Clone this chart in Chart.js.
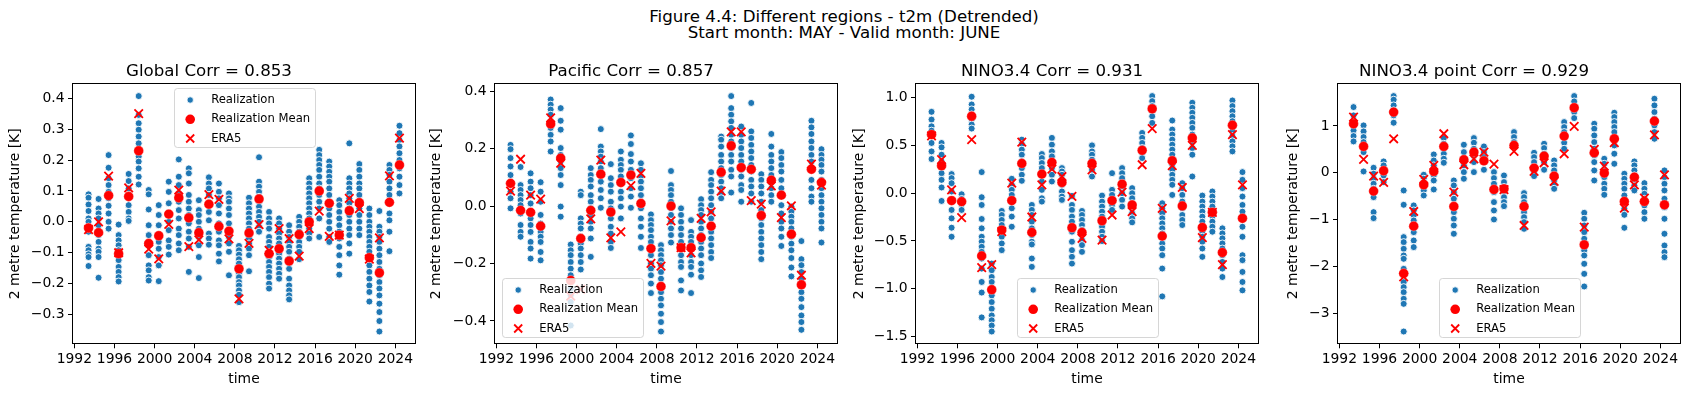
<!DOCTYPE html>
<html>
<head>
<meta charset="utf-8">
<script src="https://cdn.jsdelivr.net/npm/chart.js@4.4.1/dist/chart.umd.min.js"></script>
<style>
  body { margin: 0; width: 1688px; height: 396px; background: #fff; position: relative; overflow: hidden; font-family: "DejaVu Sans", sans-serif; }
  #suptitle { position: absolute; left: 0; top: 8.6px; width: 1688px; text-align: center; font-size: 16.67px; line-height: 16.7px; color: #000; }
  canvas { position: absolute; top: 50px; }
</style>
</head>
<body>
<div id="suptitle">Figure 4.4: Different regions - t2m (Detrended)<br>Start month: MAY - Valid month: JUNE</div>
<canvas id="c0" width="424" height="346" style="left:3px;width:424px;height:346px"></canvas>
<canvas id="c1" width="424" height="346" style="left:425px;width:424px;height:346px"></canvas>
<canvas id="c2" width="424" height="346" style="left:846px;width:424px;height:346px"></canvas>
<canvas id="c3" width="424" height="346" style="left:1268px;width:424px;height:346px"></canvas>
<script>
// forecast years (valid month June), one column of realizations per year
var years = [1993,1994,1995,1996,1997,1998,1999,2000,2001,2002,2003,2004,2005,2006,2007,2008,
             2009,2010,2011,2012,2013,2014,2015,2016,2017,2018,2019,2020,2021,2022,2023,2024];
var xTicks = [1992,1996,2000,2004,2008,2012,2016,2020,2024];

// ---- Global ----
var globalReal = [
  [0.089,0.078,0.056,0.035,0.011,0,-0.016,-0.032,-0.081,-0.092,-0.105,-0.114,-0.143],
  [0.074,0.043,0.027,0.011,-0.011,-0.043,-0.065,-0.087,-0.097,-0.114,-0.181],
  [0.216,0.175,0.141,0.119,0.097,0.076,0.052,0.027,0,-0.022],
  [-0.009,-0.043,-0.06,-0.076,-0.092,-0.108,-0.124,-0.146,-0.162,-0.179,-0.193],
  [0.155,0.132,0.108,0.087,0.054,0.032,0.011,0.003],
  [0.407,0.346,0.319,0.298,0.276,0.254,0.233,0.211,0.195,0.173,0.146,0.121],
  [0.103,0.089,0.04,-0.011,-0.043,-0.07,-0.108,-0.141,-0.157,-0.179,-0.19],
  [0.054,0.022,-0.011,-0.043,-0.065,-0.087,-0.114,-0.141,-0.192],
  [0.13,0.097,0.06,0.022,0,-0.027,-0.06,-0.081,-0.106],
  [0.202,0.146,0.119,0.092,0.065,0.038,0.011,-0.022,-0.043,-0.07,-0.092],
  [0.173,0.157,0.124,0.087,0.065,0.043,0.022,-0.005,-0.032,-0.054,-0.081,-0.162],
  [0.07,0.038,0.022,0,-0.022,-0.049,-0.076,-0.114,-0.182],
  [0.144,0.124,0.108,0.087,0.06,0.032,0.005,-0.038,-0.054,-0.074],
  [0.124,0.097,0.076,0.054,0.027,-0.005,-0.032,-0.06,-0.076,-0.103,-0.128],
  [0.092,0.076,0.065,0.043,0.022,-0.005,-0.049,-0.07,-0.097,-0.173],
  [-0.078,-0.092,-0.106,-0.121,-0.135,-0.152,-0.168,-0.179,-0.195,-0.206,-0.222,-0.236,-0.26],
  [0.078,0.06,0.043,0.027,0.011,-0.005,-0.022,-0.038,-0.054,-0.07,-0.087,-0.108,-0.16],
  [0.209,0.13,0.114,0.097,0.081,0.065,0.049,0.032,0.016,0,-0.016,-0.032],
  [0.032,0.011,-0.005,-0.022,-0.049,-0.065,-0.081,-0.097,-0.114,-0.13,-0.146,-0.162,-0.179,-0.2,-0.216],
  [0.011,-0.005,-0.022,-0.038,-0.054,-0.07,-0.087,-0.103,-0.119,-0.135,-0.152,-0.168,-0.184],
  [-0.011,-0.032,-0.049,-0.065,-0.081,-0.097,-0.119,-0.135,-0.152,-0.184,-0.206,-0.222,-0.238,-0.251],
  [0.016,0,-0.016,-0.032,-0.049,-0.065,-0.081,-0.097,-0.121],
  [0.141,0.124,0.108,0.092,0.076,0.06,0.043,0.027,0.011,-0.005,-0.022,-0.038,-0.054],
  [0.233,0.216,0.2,0.184,0.168,0.146,0.124,0.108,0.087,0.065,0.043,0.011,-0.049],
  [0.195,0.179,0.162,0.146,0.13,0.108,0.087,0.065,0.043,0.022,0,-0.022,-0.049,-0.065],
  [0.07,0.054,0.032,0.011,-0.011,-0.032,-0.054,-0.081,-0.108,-0.141,-0.171],
  [0.254,0.141,0.124,0.108,0.092,0.076,0.06,0.043,0.022,0,-0.022,-0.043,-0.07,-0.103],
  [0.187,0.168,0.146,0.124,0.108,0.087,0.065,0.043,0.022,0,-0.022,-0.043],
  [0.043,0.022,0,-0.016,-0.032,-0.049,-0.065,-0.081,-0.097,-0.119,-0.141,-0.162,-0.184,-0.206,-0.227,-0.258],
  [0.035,-0.016,-0.032,-0.049,-0.065,-0.087,-0.108,-0.13,-0.152,-0.173,-0.195,-0.216,-0.238,-0.265,-0.292,-0.321,-0.355],
  [0.184,0.168,0.152,0.13,0.108,0.087,0.06,0.027,0.005,-0.032,-0.095],
  [0.311,0.287,0.265,0.244,0.222,0.2,0.173,0.146,0.119,0.092]
];
var globalMean = [-0.02,-0.035,0.085,-0.103,0.082,0.23,-0.07,-0.045,0.025,0.078,0.013,-0.035,0.057,-0.015,-0.03,-0.152,
                  -0.036,0.074,-0.103,-0.087,-0.127,-0.041,0.0,0.1,0.06,-0.043,0.036,0.062,-0.116,-0.165,0.063,0.184];
var globalEra5 = [-0.025,0.0,0.148,-0.1,0.11,0.35,-0.088,-0.12,-0.008,0.103,-0.08,-0.058,0.088,0.073,-0.055,-0.249,
                  -0.07,-0.009,-0.092,-0.022,-0.054,-0.111,-0.022,0.035,-0.047,-0.043,0.076,0.043,-0.121,-0.052,0.149,0.271];
var globalTicks = [-0.3,-0.2,-0.1,0.0,0.1,0.2,0.3,0.4];

// ---- Pacific ----
var pacificReal = [
  [0.213,0.198,0.167,0.138,0.108,0.079,0.05,0.027,-0.008],
  [0.136,0.073,0.056,0.038,0.021,0.003,-0.026,-0.066,-0.09,-0.107],
  [0.114,0.085,0.062,0.038,0.009,-0.02,-0.043,-0.066,-0.09,-0.125,-0.148,-0.183],
  [0.083,0.05,0.015,-0.031,-0.061,-0.09,-0.107,-0.125,-0.16,-0.189],
  [0.371,0.353,0.336,0.318,0.295,0.272,0.248,0.225,0.19],
  [0.341,0.297,0.266,0.202,0.178,0.155,0.132,0.108,0.073,-0.002,-0.037],
  [-0.134,-0.154,-0.171,-0.195,-0.218,-0.241,-0.265,-0.288,-0.311,-0.334,-0.416],
  [0.05,0.038,-0.043,-0.061,-0.078,-0.107,-0.131,-0.148,-0.171,-0.195,-0.221],
  [0.132,0.108,0.091,0.068,0.038,0.015,-0.008,-0.031,-0.055,-0.078,-0.113,-0.177],
  [0.268,0.207,0.19,0.172,0.155,0.132,0.108,0.085,0.056,0.027,-0.006],
  [0.146,0.097,0.073,0.05,0.015,-0.008,-0.043,-0.072,-0.096,-0.125,-0.146],
  [0.19,0.161,0.143,0.126,0.103,0.079,0.05,0.027,-0.002,-0.043],
  [0.246,0.216,0.181,0.155,0.126,0.097,0.062,0.033,-0.006],
  [0.149,0.126,0.103,0.085,0.062,0.038,0.015,-0.008,-0.043,-0.072,-0.107,-0.146],
  [-0.029,-0.049,-0.066,-0.084,-0.107,-0.125,-0.148,-0.171,-0.2,-0.218,-0.241,-0.27,-0.303],
  [-0.136,-0.154,-0.171,-0.189,-0.206,-0.23,-0.253,-0.276,-0.3,-0.323,-0.346,-0.375,-0.404,-0.437],
  [0.122,0.073,0.056,0.038,0.015,-0.008,-0.031,-0.055,-0.078,-0.101,-0.127],
  [-0.008,-0.031,-0.055,-0.078,-0.101,-0.125,-0.148,-0.171,-0.195,-0.212,-0.259,-0.294],
  [-0.049,-0.09,-0.107,-0.125,-0.148,-0.171,-0.195,-0.212,-0.239,-0.303],
  [0.024,0.003,-0.014,-0.031,-0.055,-0.078,-0.101,-0.125,-0.148,-0.171,-0.2,-0.224,-0.247],
  [0.118,0.091,0.073,0.05,0.027,0.003,-0.02,-0.043,-0.066,-0.09,-0.113,-0.136,-0.16,-0.181],
  [0.242,0.231,0.207,0.178,0.155,0.132,0.108,0.085,0.062,0.044,0.027],
  [0.383,0.341,0.318,0.295,0.272,0.248,0.225,0.202,0.178,0.155,0.126,0.103,0.047],
  [0.277,0.248,0.225,0.202,0.178,0.155,0.126,0.103,0.073,0.056,0.015],
  [0.359,0.26,0.237,0.213,0.19,0.167,0.143,0.12,0.091,0.068,0.044,0.015],
  [0.111,0.091,0.068,0.044,0.015,-0.014,-0.043,-0.066,-0.09,-0.113,-0.136,-0.16,-0.185],
  [0.251,0.207,0.178,0.155,0.132,0.108,0.085,0.062,0.038,0.015],
  [0.188,0.167,0.143,0.12,0.091,0.062,0.033,0.003,-0.026,-0.055,-0.078,-0.107,-0.139],
  [-0.002,-0.02,-0.037,-0.055,-0.078,-0.107,-0.131,-0.154,-0.181,-0.214,-0.245],
  [-0.122,-0.185,-0.206,-0.23,-0.253,-0.276,-0.3,-0.323,-0.352,-0.381,-0.404,-0.431],
  [0.297,0.274,0.251,0.225,0.202,0.178,0.155,0.126,0.091,0.062,0.033,0.015],
  [0.198,0.178,0.161,0.143,0.12,0.091,0.062,0.038,0.015,-0.008,-0.031,-0.055,-0.078,-0.127]
];
var pacificMean = [0.079,-0.015,-0.022,-0.07,0.286,0.167,-0.259,-0.113,-0.015,0.111,-0.021,0.082,0.108,0.009,-0.148,-0.28,
                   0.0,-0.145,-0.145,-0.11,-0.07,0.118,0.21,0.134,0.128,-0.033,0.09,0.038,-0.098,-0.274,0.128,0.082];
var pacificEra5 = [0.052,0.163,0.038,0.024,0.307,0.149,-0.314,-0.29,-0.045,0.16,-0.111,-0.09,0.071,0.114,-0.2,-0.209,
                   -0.052,-0.145,-0.163,-0.043,-0.02,0.052,0.258,0.258,0.019,0.007,0.07,-0.04,0.001,-0.241,0.146,0.073];
var pacificTicks = [-0.4,-0.2,0.0,0.2,0.4];

// ---- NINO3.4 ----
var ninoReal = [
  [0.852,0.771,0.7,0.655,0.614,0.526,0.438,0.358],
  [0.526,0.48,0.403,0.333,0.28,0.21,0.14,0.06,-0.081],
  [0.2,0.158,0.105,0.018,-0.088,-0.175,-0.263,-0.361,-0.456],
  [-0.011,-0.06,-0.088,-0.12,-0.175],
  [1.01,0.929,0.877,0.824,0.771,0.719,0.677],
  [0.221,-0.042,-0.123,-0.27,-0.368,-0.456,-0.508,-0.561,-0.614,-0.684,-0.789,-0.929,-1.04,-1.3],
  [-0.737,-0.806,-0.877,-0.929,-1.0,-1.07,-1.14,-1.21,-1.28,-1.33,-1.385,-1.448],
  [-0.186,-0.228,-0.28,-0.333,-0.386,-0.456,-0.526,-0.596],
  [0.151,0.088,0.035,-0.018,-0.088,-0.158,-0.245,-0.351],
  [0.561,0.515,0.456,0.403,0.333,0.263,0.193,0.13],
  [-0.123,-0.175,-0.228,-0.298,-0.368,-0.438,-0.508,-0.536,-0.684,-0.771],
  [0.41,0.368,0.316,0.263,0.193,0.123,0.035,-0.053,-0.088],
  [0.579,0.508,0.438,0.386,0.316,0.263,0.193,0.123],
  [0.263,0.228,0.193,0.14,0.088,0.018,-0.035,-0.07],
  [-0.028,-0.123,-0.175,-0.245,-0.298,-0.351,-0.403,-0.508,-0.596,-0.666,-0.737],
  [-0.186,-0.228,-0.28,-0.333,-0.386,-0.438,-0.491,-0.543,-0.614],
  [0.501,0.438,0.403,0.351,0.298,0.245,0.175],
  [-0.025,-0.088,-0.14,-0.193,-0.245,-0.298,-0.351,-0.403,-0.456,-0.501],
  [0.21,0.035,-0.018,-0.07,-0.123,-0.175],
  [0.263,0.21,0.158,0.105,0.053,0.0,-0.07,-0.14],
  [0.053,0.0,-0.053,-0.105,-0.158,-0.21,-0.263,-0.305],
  [0.631,0.579,0.526,0.473,0.421,0.368],
  [1.017,0.964,0.912,0.859,0.806,0.736],
  [-0.105,-0.158,-0.21,-0.263,-0.316,-0.368,-0.421,-0.473,-0.526,-0.579,-0.649,-0.789,-1.08],
  [0.761,0.666,0.614,0.561,0.508,0.456,0.403,0.351,0.298,0.245,0.193,0.14,0.088,-0.018],
  [0.105,0.053,-0.018,-0.088,-0.158,-0.228,-0.28,-0.333],
  [0.947,0.894,0.842,0.789,0.736,0.684,0.614,0.543,0.473,0.403,0.175],
  [-0.025,-0.088,-0.14,-0.193,-0.245,-0.298,-0.351,-0.403,-0.456,-0.508,-0.579,-0.666],
  [0.018,-0.035,-0.088,-0.14,-0.193,-0.245,-0.298,-0.351,-0.403],
  [-0.368,-0.421,-0.473,-0.526,-0.579,-0.649,-0.719,-0.789,-0.877],
  [0.971,0.912,0.859,0.806,0.754,0.701,0.649,0.596,0.543,0.491,0.438],
  [0.221,0.14,0.053,-0.035,-0.123,-0.193,-0.263,-0.351,-0.456,-0.649,-0.701,-0.824,-0.929,-1.017]
];
var ninoMean = [0.614,0.288,-0.077,-0.088,0.806,-0.656,-1.01,-0.386,-0.077,0.312,-0.41,0.2,0.323,0.112,-0.361,-0.41,
                0.312,-0.288,-0.077,0.095,-0.123,0.449,0.884,-0.449,0.34,-0.133,0.579,-0.358,-0.2,-0.621,0.712,-0.263];
var ninoEra5 = [0.6,0.351,0.035,-0.256,0.561,-0.778,-0.747,-0.403,0.105,0.536,-0.249,0.088,0.252,0.175,-0.032,-0.473,
                0.245,-0.491,-0.228,0.011,-0.193,0.298,0.677,-0.158,0.288,0.06,0.501,-0.466,-0.2,-0.747,0.614,0.088];
var ninoTicks = [-1.5,-1.0,-0.5,0.0,0.5,1.0];

// ---- NINO3.4 point ----
var pointReal = [
  [1.402,1.224,1.046,0.904,0.783,0.669],
  [1.011,0.883,0.762,0.655,0.441,0.028],
  [0.107,-0.021,-0.128,-0.235,-0.342,-0.448,-0.52,-0.84,-0.968],
  [0.242,0.157,0.05,-0.057,-0.199],
  [1.637,1.559,1.438,1.331,1.224,1.068],
  [-0.377,-0.683,-1.373,-1.48,-1.623,-1.765,-1.836,-2.05,-2.192,-2.335,-2.441,-2.548,-2.69,-2.797,-3.388],
  [-0.697,-0.804,-0.911,-1.018,-1.125,-1.267,-1.445,-1.587],
  [-0.043,-0.128,-0.199,-0.27,-0.377,-0.484],
  [0.391,0.263,0.157,0.05,-0.057,-0.164,-0.356],
  [0.74,0.619,0.512,0.406,0.299,0.214],
  [-0.164,-0.27,-0.413,-0.555,-0.697,-0.84,-0.982,-1.125,-1.302],
  [0.598,0.441,0.299,0.157,0.014,-0.128],
  [0.74,0.641,0.512,0.37,0.228,0.014],
  [0.562,0.441,0.335,0.228,0.064],
  [0.014,-0.114,-0.235,-0.413,-0.626,-0.804,-0.996],
  [-0.057,-0.199,-0.306,-0.413,-0.52,-0.626,-0.712],
  [0.868,0.762,0.655,0.548],
  [-0.434,-0.52,-0.626,-0.733,-0.84,-0.947,-1.053,-1.196],
  [0.427,0.335,0.228,0.121,0.014,-0.071],
  [0.619,0.527,0.406,0.228,0.064],
  [0.263,0.157,0.05,-0.057,-0.164,-0.27,-0.342],
  [1.082,0.975,0.868,0.762,0.641,0.512],
  [1.637,1.523,1.402,1.295,1.167],
  [-0.854,-0.982,-1.125,-1.267,-1.409,-1.552,-1.658,-1.765,-1.943,-2.157,-2.427],
  [1.046,0.94,0.797,0.655,0.512,0.37,0.228,0.05,-0.164],
  [0.299,0.192,0.05,-0.093,-0.235,-0.342,-0.47],
  [1.281,1.189,1.082,0.975,0.868,0.726,0.584,0.406,0.192],
  [-0.021,-0.128,-0.235,-0.342,-0.484,-0.626,-0.769,-0.897,-1.174],
  [0.242,0.157,0.05,-0.057,-0.164,-0.27,-0.377],
  [-0.221,-0.342,-0.448,-0.555,-0.697,-0.84,-0.982],
  [1.58,1.438,1.295,1.153,1.011,0.868,0.726],
  [0.05,-0.093,-0.235,-0.377,-0.555,-0.733,-0.982,-1.302,-1.552,-1.694,-1.801]
];
var pointMean = [1.046,0.562,-0.391,0.043,1.295,-2.149,-1.139,-0.256,0.028,0.562,-0.719,0.278,0.441,0.256,-0.356,-0.342,
                 0.584,-0.719,0.1,0.356,-0.071,0.783,1.388,-1.537,0.427,-0.007,0.726,-0.612,-0.093,-0.612,1.103,-0.683];
var pointEra5 = [1.189,0.285,-0.071,-0.206,0.726,-2.22,-0.826,-0.142,0.157,0.833,-0.413,0.171,0.299,0.441,0.185,-0.36,
                 0.456,-1.125,0.028,0.214,-0.185,0.406,0.989,-1.16,0.498,0.142,0.641,-0.754,-0.256,-0.541,0.811,-0.043];
var pointTicks = [-3,-2,-1,0,1];

var BLUE = '#1f77b4';
var RED = '#ff0000';
var FONT = '"DejaVu Sans", sans-serif';

// dates are 1 June of each year
function yearPos(y) { return y + 151 / 365; }

var legendPlugin = {
  id: 'mplLegend',
  afterDatasetsDraw: function(chart, args, opts) {
    var ctx = chart.ctx;
    var ca = chart.chartArea;
    // axes frame
    ctx.save();
    ctx.strokeStyle = '#000';
    ctx.lineWidth = 1;
    ctx.strokeRect(Math.round(ca.left) - 0.5, Math.round(ca.top) - 0.5,
                   Math.round(ca.right - ca.left) + 1, Math.round(ca.bottom - ca.top) + 1);
    ctx.restore();

    var w = 141, h = 59;
    var bx, by;
    if (opts.loc === 'upper center') { bx = (ca.left + ca.right) / 2 - w / 2; by = ca.top + 4; }
    else if (opts.loc === 'lower left') { bx = ca.left + 6.7; by = ca.bottom - 6.7 - h; }
    else { bx = (ca.left + ca.right) / 2 - w / 2; by = ca.bottom - 6.7 - h; }
    bx = Math.round(bx) + 0.5; by = Math.round(by) + 0.5;

    ctx.save();
    ctx.globalAlpha = 0.8;
    ctx.beginPath();
    ctx.roundRect(bx, by, w, h, 3);
    ctx.fillStyle = '#fff';
    ctx.fill();
    ctx.strokeStyle = '#cccccc';
    ctx.lineWidth = 1;
    ctx.stroke();
    ctx.restore();

    var labels = ['Realization', 'Realization Mean', 'ERA5'];
    var rows = [11.5, 30.8, 50];
    ctx.save();
    for (var i = 0; i < 3; i++) {
      var mx = bx + 15.7, my = by + rows[i];
      if (i === 0) {
        ctx.beginPath(); ctx.arc(mx, my, 3.2, 0, Math.PI * 2);
        ctx.fillStyle = BLUE; ctx.fill();
        ctx.strokeStyle = '#fff'; ctx.lineWidth = 0.8; ctx.stroke();
      } else if (i === 1) {
        ctx.beginPath(); ctx.arc(mx, my, 4.8, 0, Math.PI * 2);
        ctx.fillStyle = RED; ctx.fill();
      } else {
        ctx.beginPath();
        ctx.moveTo(mx - 4, my - 4); ctx.lineTo(mx + 4, my + 4);
        ctx.moveTo(mx - 4, my + 4); ctx.lineTo(mx + 4, my - 4);
        ctx.strokeStyle = RED; ctx.lineWidth = 1.8; ctx.stroke();
      }
      ctx.fillStyle = '#000';
      ctx.font = '11.6px ' + FONT;
      ctx.textBaseline = 'middle';
      ctx.textAlign = 'left';
      ctx.fillText(labels[i], bx + 36.7, my);
    }
    ctx.restore();
  }
};

function makePanel(canvasId, title, real, mean, era5, ticks, dec, loc, yTitlePad) {
  var realPts = [];
  var all = [];
  for (var i = 0; i < years.length; i++) {
    for (var j = 0; j < real[i].length; j++) {
      realPts.push({x: yearPos(years[i]), y: real[i][j]});
      all.push(real[i][j]);
    }
    all.push(mean[i], era5[i]);
  }
  var lo = Math.min.apply(null, all), hi = Math.max.apply(null, all);
  var m = (hi - lo) * 0.05;
  var x0 = yearPos(years[0]), x1 = yearPos(years[years.length - 1]);
  var xm = (x1 - x0) * 0.05;

  var tickFont = {family: FONT, size: 13.9};
  new Chart(document.getElementById(canvasId), {
    type: 'scatter',
    data: {
      datasets: [
        {
          label: 'ERA5', order: 1,
          data: years.map(function(y, k) { return {x: yearPos(y), y: era5[k]}; }),
          pointStyle: 'crossRot', pointRadius: 6, borderColor: RED, borderWidth: 1.8, backgroundColor: RED
        },
        {
          label: 'Realization Mean', order: 2,
          data: years.map(function(y, k) { return {x: yearPos(y), y: mean[k]}; }),
          pointRadius: 4.9, backgroundColor: RED, borderColor: 'rgba(255,255,255,0.6)', borderWidth: 0.5
        },
        {
          label: 'Realization', order: 3,
          data: realPts,
          pointRadius: 3.5, backgroundColor: BLUE, borderColor: '#fff', borderWidth: 0.9
        }
      ]
    },
    options: {
      responsive: false,
      animation: false,
      events: [],
      layout: {padding: {left: 0, right: 12, top: 0, bottom: 0}},
      plugins: {
        legend: {display: false},
        tooltip: {enabled: false},
        title: {
          display: true, text: title, color: '#000',
          font: {family: FONT, size: 16.67, weight: 'normal'},
          padding: {top: 11.5, bottom: 2.8}
        },
        mplLegend: {loc: loc}
      },
      scales: {
        x: {
          type: 'linear', min: x0 - xm, max: x1 + xm,
          afterBuildTicks: function(s) { s.ticks = xTicks.map(function(v) { return {value: v}; }); },
          afterFit: function(s) { s.height = 52.7; },
          ticks: {color: '#000', font: tickFont, padding: 2.4, maxRotation: 0, autoSkip: false,
                  callback: function(v) { return String(v); }},
          grid: {drawOnChartArea: false, drawTicks: true, tickLength: 5, color: '#000', lineWidth: 1},
          border: {display: false},
          title: {display: true, text: 'time', color: '#000', font: tickFont, padding: {top: 0, bottom: 8.4}}
        },
        y: {
          type: 'linear', min: lo - m, max: hi + m,
          afterBuildTicks: function(s) { s.ticks = ticks.map(function(v) { return {value: v}; }); },
          afterFit: function(s) { s.width = 70; },
          ticks: {color: '#000', font: tickFont, padding: 3.5, autoSkip: false,
                  callback: function(v) { return v.toFixed(dec).replace('-', '\u2212'); }},
          grid: {drawOnChartArea: false, drawTicks: true, tickLength: 5, color: '#000', lineWidth: 1},
          border: {display: false},
          title: {display: true, text: '2 metre temperature [K]', color: '#000', font: tickFont,
                  padding: {top: yTitlePad, bottom: 0}}
        }
      }
    },
    plugins: [legendPlugin]
  });
}

makePanel('c0', 'Global Corr = 0.853', globalReal, globalMean, globalEra5, globalTicks, 1, 'upper center', 3.6);
makePanel('c1', 'Pacific Corr = 0.857', pacificReal, pacificMean, pacificEra5, pacificTicks, 1, 'lower left', 3.4);
makePanel('c2', 'NINO3.4 Corr = 0.931', ninoReal, ninoMean, ninoEra5, ninoTicks, 1, 'lower center', 4.6);
makePanel('c3', 'NINO3.4 point Corr = 0.929', pointReal, pointMean, pointEra5, pointTicks, 0, 'lower center', 16.6);
</script>
</body>
</html>
